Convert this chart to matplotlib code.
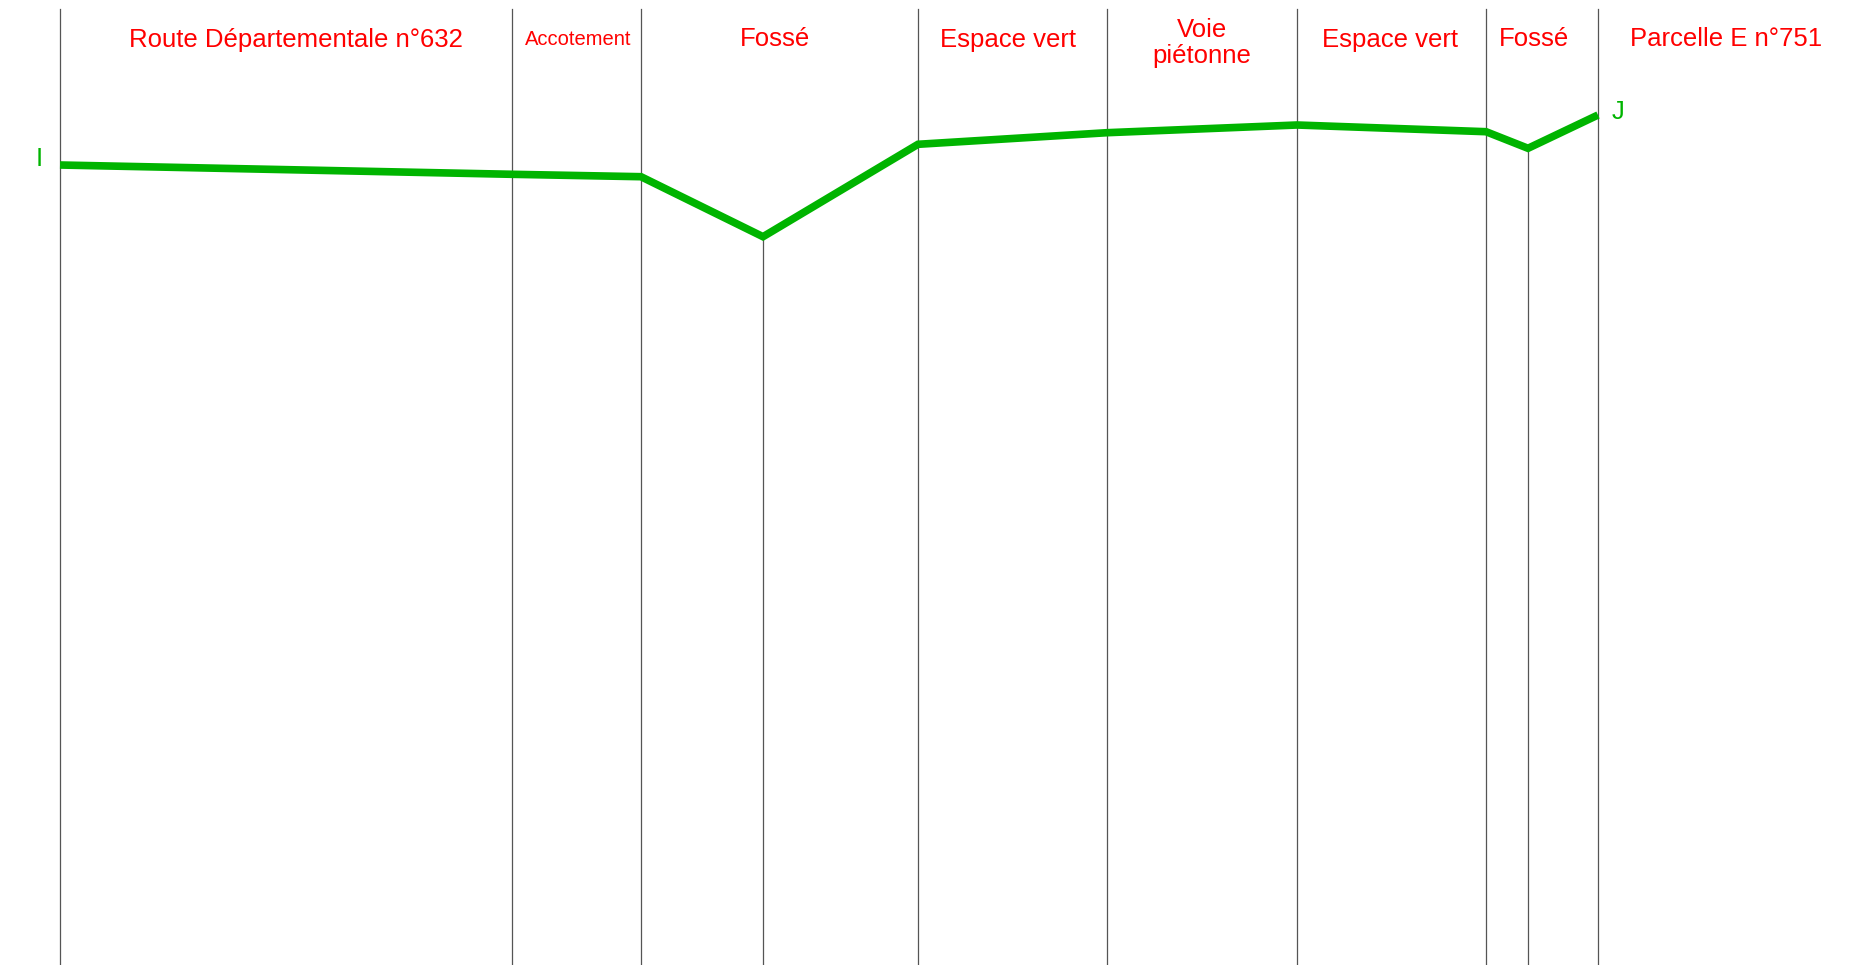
import matplotlib
matplotlib.use("Agg")
import matplotlib.pyplot as plt
import matplotlib.transforms as mtransforms

plt.rcParams['font.family'] = ['Liberation Sans', 'DejaVu Sans']

# Profile points: distance along section and elevation (arbitrary units)
distance = [0, 452, 581, 703, 858, 1047, 1237, 1426, 1468, 1538]
elevation = [85, 75.7, 73.3, 13.3, 105.7, 117.3, 125, 118.3, 101.7, 135]

# Full-height section boundaries (indices into the points above)
boundary_idx = [0, 1, 2, 4, 5, 6, 7, 9]
# Lines that start at the profile (ditch bottoms)
low_idx = [3, 8]

# Zone labels and their extents (start, end distance)
zone_labels = ["Route Départementale n°632", "Accotement", "Fossé", "Espace vert",
               "Voie\npiétonne", "Espace vert", "Fossé", "Parcelle E n°751"]
zone_start = [0, 452, 581, 858, 1047, 1237, 1426, 1538]
zone_end = [452, 581, 858, 1047, 1237, 1426, 1538, 1795]
zone_nudge = [10, 2, -4, -4, 0, -2, -8, 0]
zone_size = [18.5, 14.5, 18.5, 18.5, 18.5, 18.5, 18.5, 18.5]

end_labels = ["I", "J"]

fig = plt.figure(figsize=(18.55, 9.65), dpi=100)
ax = fig.add_axes([0, 0, 1, 1])
ax.set_xlim(-60, 1795)
ax.set_ylim(-715, 250)
ax.axis('off')

top = 241
bottom = -720
for i in boundary_idx:
    ax.plot([distance[i], distance[i]], [bottom, top], color='#555555', lw=0.9, zorder=1)
for i in low_idx:
    ax.plot([distance[i], distance[i]], [bottom, elevation[i]], color='#555555', lw=0.9, zorder=1)

ax.plot(distance, elevation, color='#00B400', lw=5.5, solid_joinstyle='miter',
        solid_capstyle='butt', zorder=3)

trans = mtransforms.blended_transform_factory(ax.transData, ax.transAxes)
for lab, s, e, n, fs in zip(zone_labels, zone_start, zone_end, zone_nudge, zone_size):
    yc = 1 - 43 / 965 if "\n" in lab else 1 - 39.5 / 965
    ax.text((s + e) / 2 + n, yc, lab, transform=trans, ha='center', va='center',
            color='#FF0000', fontsize=fs, linespacing=1.08)

ax.text(distance[0] - 21, elevation[0] + 6, end_labels[0], color='#00B400', fontsize=18.5,
        ha='center', va='center')
ax.text(distance[-1] + 20, elevation[-1] + 3, end_labels[1], color='#00B400', fontsize=18.5,
        ha='center', va='center')

fig.savefig("out.png", dpi=100, facecolor='white')
